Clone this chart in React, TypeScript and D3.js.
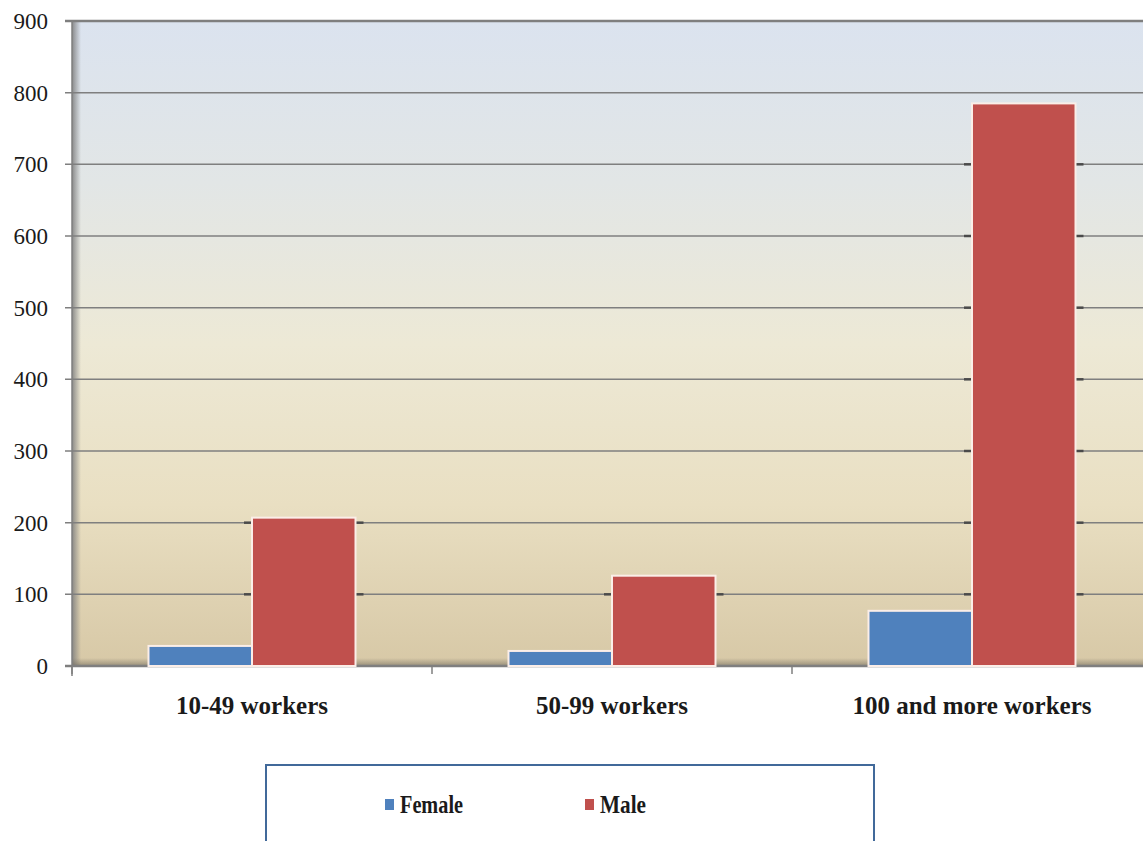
import React from "react";
import * as d3 from "d3";

const categories = ["10-49 workers", "50-99 workers", "100 and more workers"];
const seriesNames = ["Female", "Male"];
const female = [28, 21, 77];
const male = [207, 126, 785];
const yTicks = [0, 100, 200, 300, 400, 500, 600, 700, 800, 900];
const colors = ["#4f81bd", "#c0504d"];

export default function App() {
  const W = 1143, H = 841;
  const left = 72, right = 1152, top = 21, bottom = 666;
  const y = d3.scaleLinear().domain([0, 900]).range([bottom, top]);
  const x0 = d3.scaleBand().domain(categories).range([left, right]).paddingInner(0).paddingOuter(0);
  const groupW = 207;
  const x1 = d3.scaleBand().domain(seriesNames).range([0, groupW]);
  const series = [female, male];
  const font = "'Liberation Serif', 'Times New Roman', serif";
  const legendWidths = [63, 46];

  return (
    <svg width={W} height={H} style={{ position: "absolute", left: 0, top: 0, display: "block" }}>
      <defs>
        <linearGradient id="bg" x1="0" y1="0" x2="0" y2="1">
          <stop offset="0" stopColor="#dbe3ef" />
          <stop offset="0.25" stopColor="#e2e6e6" />
          <stop offset="0.5" stopColor="#ede9d6" />
          <stop offset="0.75" stopColor="#e9dfc2" />
          <stop offset="1" stopColor="#d7c8a6" />
        </linearGradient>
        <linearGradient id="lshadow" x1="0" y1="0" x2="1" y2="0">
          <stop offset="0" stopColor="#808080" stopOpacity="0.9" />
          <stop offset="1" stopColor="#808080" stopOpacity="0" />
        </linearGradient>
        <linearGradient id="bshadow" x1="0" y1="1" x2="0" y2="0">
          <stop offset="0" stopColor="#6f6a5e" stopOpacity="0.6" />
          <stop offset="1" stopColor="#6f6a5e" stopOpacity="0" />
        </linearGradient>
      </defs>
      <rect x={0} y={0} width={W} height={H} fill="#ffffff" />
      <rect x={left} y={top} width={right - left} height={bottom - top} fill="url(#bg)" />
      <rect x={left} y={top} width={9} height={bottom - top} fill="url(#lshadow)" />
      <rect x={left} y={bottom - 8} width={right - left} height={8} fill="url(#bshadow)" />
      {yTicks.map((t) => (
        <g key={t}>
          <line x1={65} x2={right} y1={y(t)} y2={y(t)} stroke="#7f7f7f" strokeWidth={t === 0 || t === 900 ? 2.5 : 1.5} />
          <text x={48} y={y(t)} dy="0.35em" textAnchor="end" fontFamily={font} fontSize={23} fill="#1a1a1a">{t}</text>
        </g>
      ))}
      <line x1={left} x2={left} y1={top} y2={bottom + 10} stroke="#7f7f7f" strokeWidth={1.5} />
      {[0, 1, 2, 3].map((i) => (
        <line key={i} x1={left + i * x0.bandwidth()} x2={left + i * x0.bandwidth()} y1={bottom} y2={bottom + 8} stroke="#7f7f7f" strokeWidth={1.5} />
      ))}
      {categories.map((c, ci) => {
        const gx = (x0(c) as number) + x0.bandwidth() / 2 - groupW / 2;
        const stubs = yTicks.filter((t) => t > 0 && t < 900).map((t) => {
          const crossing = seriesNames.map((s, si) => ({ s, v: series[si][ci] })).filter((d) => d.v > t);
          if (!crossing.length) return null;
          const x1s = gx + (x1(crossing[0].s) as number);
          const x2s = gx + (x1(crossing[crossing.length - 1].s) as number) + x1.bandwidth();
          return (
            <g key={t}>
              <line x1={x1s - 8} x2={x1s} y1={y(t)} y2={y(t)} stroke="#4a4a4a" strokeWidth={2.5} />
              <line x1={x2s} x2={x2s + 8} y1={y(t)} y2={y(t)} stroke="#4a4a4a" strokeWidth={2.5} />
            </g>
          );
        });
        return (
          <g key={c}>
            {stubs}
            {seriesNames.map((s, si) => {
              const v = series[si][ci];
              const bx = gx + (x1(s) as number);
              return (
                <rect key={s} x={bx} y={y(v)} width={x1.bandwidth()} height={bottom - y(v)}
                  fill={colors[si]} stroke="#fbeee8" strokeWidth={2} />
              );
            })}
            <text x={(x0(c) as number) + x0.bandwidth() / 2} y={714} textAnchor="middle" fontFamily={font} fontWeight="bold" fontSize={25} fill="#1a1a1a">{c}</text>
          </g>
        );
      })}
      <rect x={266} y={765} width={608} height={100} fill="none" stroke="#41699a" strokeWidth={2} />
      {seriesNames.map((s, i) => (
        <g key={s}>
          <rect x={385 + i * 200} y={799} width={9} height={11} fill={colors[i]} />
          <text x={400 + i * 200} y={813} fontFamily={font} fontWeight="bold" fontSize={25}
            textLength={legendWidths[i]} lengthAdjust="spacingAndGlyphs" fill="#1a1a1a">{s}</text>
        </g>
      ))}
    </svg>
  );
}
